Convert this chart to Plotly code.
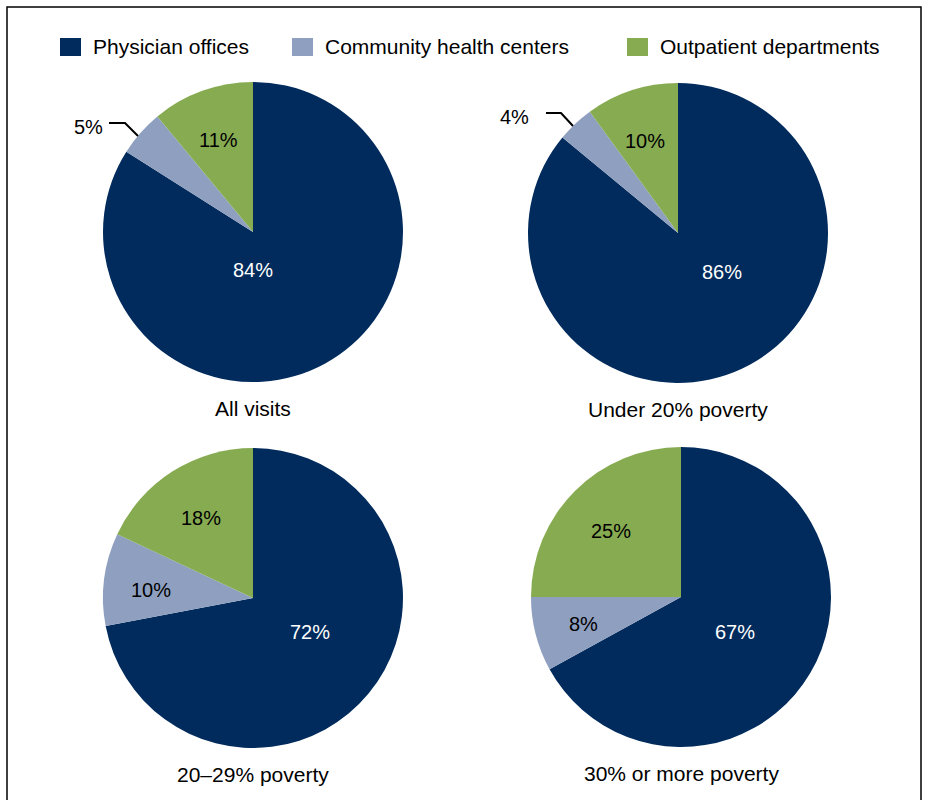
import plotly.graph_objects as go

# data
settings = ["Physician offices", "Community health centers", "Outpatient departments"]
groups = ["All visits", "Under 20% poverty", "20\u201329% poverty", "30% or more poverty"]
all_visits = [84, 5, 11]
under_20 = [86, 4, 10]
pov_20_29 = [72, 10, 18]
pov_30_plus = [67, 8, 25]

colors = ["#002b5c", "#8f9fbf", "#87ab51"]
text_colors = ["white", "black", "black"]
FONT = "Liberation Sans, Arial, sans-serif"
W, H = 930, 800
R = 150

# pie centres in pixels (x from left, y from top)
centres = [(253, 232), (678, 233), (253, 598), (681, 597)]
series = [all_visits, under_20, pov_20_29, pov_30_plus]

# label positions in pixels, per pie, per slice (None -> outside label with leader)
label_pos = [
    [(253, 270), None, (218, 140)],
    [(722, 272), None, (645, 141)],
    [(310, 632), (151, 590), (201, 518)],
    [(735, 632), (583, 624), (611, 531)],
]
outside = {
    0: dict(text=(88, 127), line=[(109, 123), (125, 123), (138, 136)]),
    1: dict(text=(514, 117), line=[(546, 113), (561, 113), (573, 126)]),
}


def px(x):
    return x / W


def py(y):
    return 1 - y / H


def label(x, y, text, color="black", xanchor="center", size=20):
    return dict(x=px(x), y=py(y), xref="paper", yref="paper",
                text=text, showarrow=False,
                xanchor=xanchor, yanchor="middle",
                font=dict(size=size, color=color, family=FONT))


fig = go.Figure()
annotations = []
shapes = []

for i, (vals, (cx, cy)) in enumerate(zip(series, centres)):
    fig.add_trace(
        go.Pie(
            labels=settings,
            values=vals,
            sort=False,
            direction="clockwise",
            rotation=0,
            marker=dict(colors=colors, line=dict(width=0)),
            textinfo="none",
            showlegend=False,
            domain=dict(
                x=[px(cx - R), px(cx + R)],
                y=[py(cy + R), py(cy - R)],
            ),
            name=groups[i],
        )
    )
    for j, v in enumerate(vals):
        pos = label_pos[i][j]
        if pos is None:
            o = outside[i]
            pos = o["text"]
            path = "M " + " L ".join(f"{px(x)},{py(y)}" for x, y in o["line"])
            shapes.append(
                dict(type="path", xref="paper", yref="paper", path=path,
                     line=dict(color="black", width=2))
            )
        annotations.append(label(pos[0], pos[1], f"{v}%", text_colors[j]))
    annotations.append(label(cx, cy + 176, groups[i], size=21))

# legend drawn by hand
legend_x = [60, 292, 627]
for k, name in enumerate(settings):
    x0 = legend_x[k]
    shapes.append(
        dict(type="rect", xref="paper", yref="paper",
             x0=px(x0), x1=px(x0 + 21), y0=py(56), y1=py(38),
             fillcolor=colors[k], line=dict(width=0))
    )
    annotations.append(label(x0 + 31, 47, name, xanchor="left", size=21))

# frame
shapes.append(
    dict(type="rect", xref="paper", yref="paper",
         x0=px(7), x1=px(921), y0=py(815), y1=py(7),
         line=dict(color="black", width=1.5))
)

fig.update_layout(
    width=W,
    height=H,
    margin=dict(l=0, r=0, t=0, b=0),
    paper_bgcolor="white",
    plot_bgcolor="white",
    annotations=annotations,
    shapes=shapes,
    font=dict(family=FONT),
)

fig.write_html("out.html", config={"displayModeBar": False},
               post_script="document.body.style.margin='0';")
